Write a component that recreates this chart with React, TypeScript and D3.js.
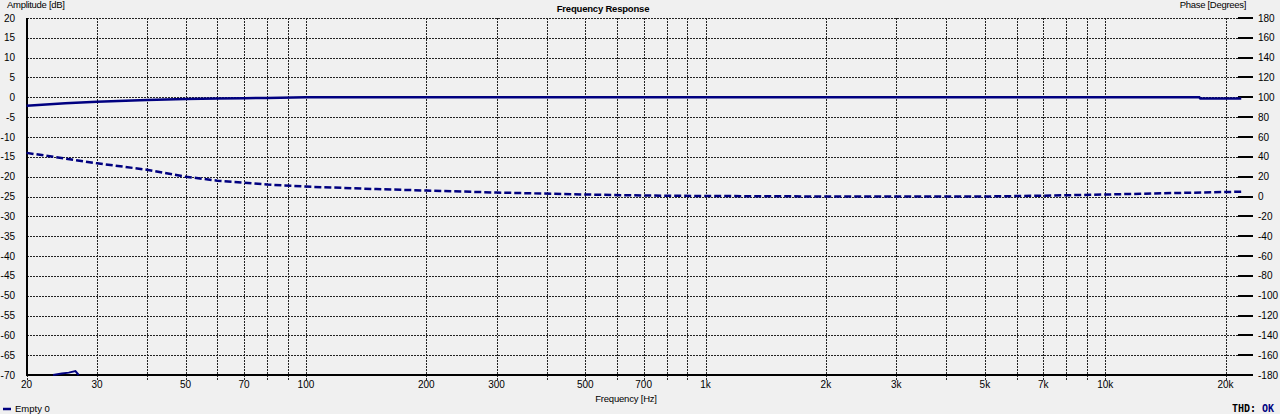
import React from "react";
import * as d3 from "d3";

const ampFreq = [20, 25, 30, 40, 50, 60, 70, 80, 100, 200, 1000, 10000, 17200, 17300, 21900];
const ampDb = [-2.1, -1.5, -1.1, -0.7, -0.45, -0.3, -0.2, -0.15, 0, 0, 0, 0, 0, -0.3, -0.3];

const phaseFreq = [20, 30, 40, 50, 60, 70, 80, 100, 150, 200, 300, 500, 700, 1000, 2000, 5000, 7000, 10000, 15000, 20000, 21900];
const phaseDeg = [44, 33.5, 27, 20, 16, 14, 12, 10, 7.5, 6, 4, 2, 1, 0.5, 0, 0, 0.8, 2, 3.5, 4.5, 4.8];

const distFreq = [23.3, 24.5, 25.5, 26.5, 27];
const distDb = [-70, -69.6, -69.4, -69, -70];

const gridFreqs = [
  20, 30, 40, 50, 60, 70, 80, 90,
  100, 200, 300, 400, 500, 600, 700, 800, 900,
  1000, 2000, 3000, 4000, 5000, 6000, 7000, 8000, 9000,
  10000, 20000,
];
const freqLabels = [
  [20, "20"], [30, "30"], [50, "50"], [70, "70"], [100, "100"], [200, "200"], [300, "300"],
  [500, "500"], [700, "700"], [1000, "1k"], [2000, "2k"], [3000, "3k"], [5000, "5k"],
  [7000, "7k"], [10000, "10k"], [20000, "20k"],
] as [number, string][];
const dbTicks = d3.range(20, -71, -5);
const phaseTicks = d3.range(180, -181, -20);

const W = 1280;
const H = 414;
const left = 27;
const right = 1240;
const top = 18;
const bottom = 375;

export default function App() {
  const x = d3.scaleLog().domain([20, 20000]).range([26.6, 1225.5]);
  const y = d3.scaleLinear().domain([-70, 20]).range([bottom, top]);
  const yp = d3.scaleLinear().domain([-180, 180]).range([bottom, top]);

  const ampLine = d3.line<number>().x((_, i) => x(ampFreq[i])).y((d) => y(d));
  const phaseLine = d3.line<number>().x((_, i) => x(phaseFreq[i])).y((d) => yp(d));
  const distLine = d3.line<number>().x((_, i) => x(distFreq[i])).y((d) => y(d));

  const font = "'Liberation Sans', Arial, sans-serif";
  const navy = "#000080";

  return (
    <div style={{ position: "fixed", left: 0, top: 0, width: W, height: H, background: "#f0f0f0" }}>
      <svg width={W} height={H} style={{ display: "block", fontFamily: font }}>
        <rect x={0} y={0} width={W} height={H} fill="#f0f0f0" />
        {dbTicks.map((d) => (
          <line key={"h" + d} x1={left} x2={right} y1={Math.round(y(d)) + 0.5} y2={Math.round(y(d)) + 0.5}
            stroke="#222" strokeWidth={1} strokeDasharray="2,1" shapeRendering="crispEdges" />
        ))}
        {gridFreqs.map((f) => (
          <line key={"v" + f} x1={Math.round(x(f)) + 0.5} x2={Math.round(x(f)) + 0.5} y1={top} y2={381}
            stroke="#222" strokeWidth={1} strokeDasharray="2,1" shapeRendering="crispEdges" />
        ))}
        <line x1={left} x2={left} y1={top} y2={bottom + 1} stroke="#000" strokeWidth={2} />
        <line x1={left} x2={right} y1={bottom} y2={bottom} stroke="#000" strokeWidth={2} />
        {phaseTicks.map((p) => (
          <g key={"p" + p}>
            <line x1={1238} x2={1253} y1={Math.round(yp(p))} y2={Math.round(yp(p))} stroke="#000" strokeWidth={2} />
            <text x={1258} y={yp(p)} dy="0.35em" fontSize={10} fill="#000">{p}</text>
          </g>
        ))}
        {dbTicks.map((d) => (
          <text key={"l" + d} x={15} y={y(d)} dy="0.35em" fontSize={10} textAnchor="end" fill="#000">{d}</text>
        ))}
        {freqLabels.map(([f, s]) => (
          <text key={"b" + f} x={x(f)} y={388} fontSize={10} textAnchor="middle" fill="#000">{s}</text>
        ))}
        <path d={distLine(distDb) || ""} fill="none" stroke={navy} strokeWidth={2} />
        <path d={phaseLine(phaseDeg) || ""} fill="none" stroke={navy} strokeWidth={2.5} strokeDasharray="7,3" />
        <path d={ampLine(ampDb) || ""} fill="none" stroke={navy} strokeWidth={2.5} />
        <text x={603} y={12} fontSize={9.5} fontWeight="bold" textAnchor="middle" fill="#000" letterSpacing={-0.2}>Frequency Response</text>
        <text x={7} y={8} fontSize={9.5} fill="#000" letterSpacing={-0.3}>Amplitude [dB]</text>
        <text x={1246} y={8} fontSize={9.5} textAnchor="end" fill="#000" letterSpacing={-0.3}>Phase [Degrees]</text>
        <text x={626} y={402} fontSize={9.5} textAnchor="middle" fill="#000" letterSpacing={-0.2}>Frequency [Hz]</text>
        <line x1={3} x2={11} y1={409} y2={409} stroke={navy} strokeWidth={2.5} />
        <text x={15} y={412} fontSize={9.5} fill="#000">Empty 0</text>
        <text x={1232} y={412} fontSize={10} fontWeight="bold" fill="#000" fontFamily="'DejaVu Sans Mono', monospace">THD:</text>
        <text x={1262} y={412} fontSize={10} fontWeight="bold" fill={navy} fontFamily="'DejaVu Sans Mono', monospace">OK</text>
      </svg>
    </div>
  );
}
